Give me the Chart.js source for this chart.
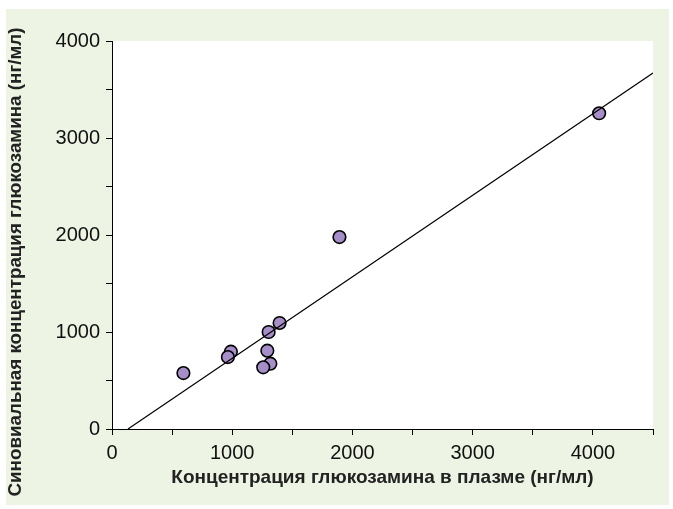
<!DOCTYPE html>
<html>
<head>
<meta charset="utf-8">
<script src="https://cdn.jsdelivr.net/npm/chart.js@4"></script>
<style>
  html, body { margin: 0; padding: 0; background: #fff; }
  #wrap { width: 673px; height: 509px; }
</style>
</head>
<body>
<div id="wrap"><canvas id="glucosamine-chart" width="673" height="509"></canvas></div>
<script>
// values
const plasma   = [594, 989, 964, 1303, 1394, 1292, 1317, 1258, 1892, 4052];
const synovial = [577, 797, 742, 1000, 1093, 807, 673, 636, 1979, 3255];
// regression line end points
const fitX = [133, 4500];
const fitY = [0, 3670];

const xTitle = 'Концентрация глюкозамина в плазме (нг/мл)';
const yTitle = 'Синовиальная концентрация глюкозамина (нг/мл)';

const points = plasma.map((x, i) => ({x: x, y: synovial[i]}));
const fitLine = fitX.map((x, i) => ({x: x, y: fitY[i]}));

// green panel behind, white plot area, rotated y title
const panel = {
    id: 'panel',
    beforeDraw(chart) {
        const ctx = chart.ctx;
        const a = chart.chartArea;
        ctx.save();
        ctx.fillStyle = '#edf4e3';
        ctx.fillRect(6, 9, 663, 496);
        ctx.fillStyle = '#ffffff';
        ctx.fillRect(a.left, a.top, a.right - a.left, a.bottom - a.top);
        ctx.restore();
    },
    afterDraw(chart) {
        const ctx = chart.ctx;
        ctx.save();
        ctx.translate(16, 262);
        ctx.rotate(-Math.PI / 2);
        ctx.font = 'bold 18.8px "Liberation Sans", Arial, sans-serif';
        ctx.fillStyle = '#222';
        ctx.textAlign = 'center';
        ctx.textBaseline = 'middle';
        ctx.fillText(yTitle, 0, 0);
        ctx.restore();
    }
};

const every1000 = v => (v % 1000 === 0 ? v : '');

const config = {
    type: 'scatter',
    data: {
        datasets: [{
            type: 'line',
            data: fitLine,
            borderColor: '#000',
            borderWidth: 1.2,
            pointRadius: 0,
            fill: false
        }, {
            data: points,
            backgroundColor: '#a68ec9',
            borderColor: '#000',
            borderWidth: 1.6,
            pointRadius: 6.3
        }]
    },
    options: {
        responsive: false,
        animation: false,
        layout: { padding: { left: 0, top: 41, right: 20, bottom: 20 } },
        plugins: {
            legend: { display: false },
            tooltip: { enabled: false }
        },
        scales: {
            x: {
                type: 'linear',
                min: 0,
                max: 4500,
                afterFit: s => { s.height = 60; },
                border: { display: true, color: '#000', width: 1 },
                grid: { drawOnChartArea: false, color: '#000', tickLength: 6 },
                ticks: {
                    stepSize: 500,
                    autoSkip: false,
                    maxRotation: 0,
                    padding: 6,
                    color: '#111',
                    font: { family: '"Liberation Sans", Arial, sans-serif', size: 20 },
                    callback: every1000
                },
                title: {
                    display: true,
                    text: xTitle,
                    color: '#222',
                    padding: { top: 3, bottom: 0 },
                    font: { family: '"Liberation Sans", Arial, sans-serif', size: 19, weight: 'bold' }
                }
            },
            y: {
                type: 'linear',
                min: 0,
                max: 4000,
                afterFit: s => { s.width = 112; },
                border: { display: true, color: '#000', width: 1 },
                grid: { drawOnChartArea: false, color: '#000', tickLength: 6 },
                ticks: {
                    stepSize: 500,
                    autoSkip: false,
                    padding: 6,
                    color: '#111',
                    font: { family: '"Liberation Sans", Arial, sans-serif', size: 20 },
                    callback: every1000
                }
            }
        }
    },
    plugins: [panel]
};

const context = document.getElementById('glucosamine-chart').getContext('2d');
const myChart = new Chart(context, config);
</script>
</body>
</html>
